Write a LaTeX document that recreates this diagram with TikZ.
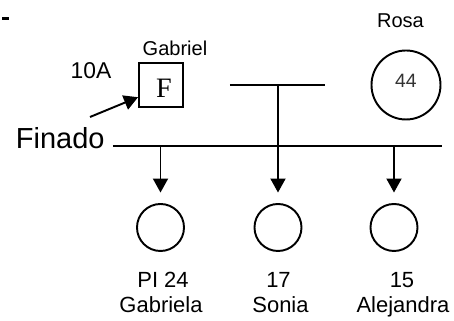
\documentclass[tikz,border=0pt]{standalone}
\usepackage{fontspec}
\setmainfont{Liberation Sans}
\newfontfamily\timesfont{Liberation Serif}
\usetikzlibrary{arrows.meta}

\begin{document}
\begin{tikzpicture}[>={Triangle[width=3mm,length=2.8mm]}, line width=1.1pt,
    male/.style={draw, minimum size=0.88cm, inner sep=0pt},
    female/.style={draw, circle, inner sep=0pt},
    kid/.style={female, minimum size=0.94cm},
    lbl/.style={anchor=base, inner sep=0pt, font=\fontsize{12.5}{15}\selectfont}]
    \useasboundingbox (0,0) rectangle (9.08,6.42);

    \fill (0.04,6.01) rectangle (0.18,6.07);

    % parents
    \node[male] (gab) at (3.22,4.72) {};
    \node[anchor=base, font=\timesfont\fontsize{16}{19}\selectfont] (gabF) at (3.28,4.46) {F};
    \node[anchor=base, font=\fontsize{11.4}{13}\selectfont] (gabname) at (3.50,5.31) {Gabriel};
    \node[anchor=base, font=\fontsize{13}{15}\selectfont] (gabage) at (1.82,4.85) {10A};

    \node[female, minimum size=1.38cm] (ros) at (8.12,4.72) {};
    \node[anchor=base, text=black!80, font=\fontsize{11}{13}\selectfont] (rosage) at (8.12,4.66) {44};
    \node[anchor=base, font=\fontsize{11.4}{13}\selectfont] (rosname) at (8.01,5.86) {Rosa};

    % deceased marker
    \node[anchor=base west, inner sep=0pt, font=\fontsize{16.5}{19}\selectfont] (fin) at (0.30,3.45) {Finado};
    \coordinate (fintip) at (1.80,4.08);
    \draw[->] (fintip) -- (gab.208);

    % sibship line
    \coordinate (tl) at (4.60,4.72);
    \coordinate (tr) at (6.50,4.72);
    \coordinate (tm) at (5.56,4.72);
    \coordinate (ml) at (2.26,3.50);
    \coordinate (mr) at (8.84,3.50);
    \draw (tl) -- (tr);
    \draw (ml) -- (mr);

    % children
    \node[kid] (c1) at (3.21,1.87) {};
    \node[kid] (c2) at (5.56,1.87) {};
    \node[kid] (c3) at (7.88,1.87) {};

    \draw[->, shorten >=0.21cm] (ml -| c1) -- (c1.north);
    \draw[->, shorten >=0.21cm] (tm) -- (c2.north);
    \draw[->, shorten >=0.21cm] (ml -| c3) -- (c3.north);

    \node[lbl] (c1age) at (3.26,0.66) {PI 24};
    \node[lbl] (c1name) at (3.22,0.16) {Gabriela};
    \node[lbl] (c2age) at (5.57,0.66) {17};
    \node[lbl] (c2name) at (5.61,0.16) {Sonia};
    \node[lbl] (c3age) at (8.04,0.66) {15};
    \node[lbl] (c3name) at (8.06,0.16) {Alejandra};
\end{tikzpicture}
\end{document}
